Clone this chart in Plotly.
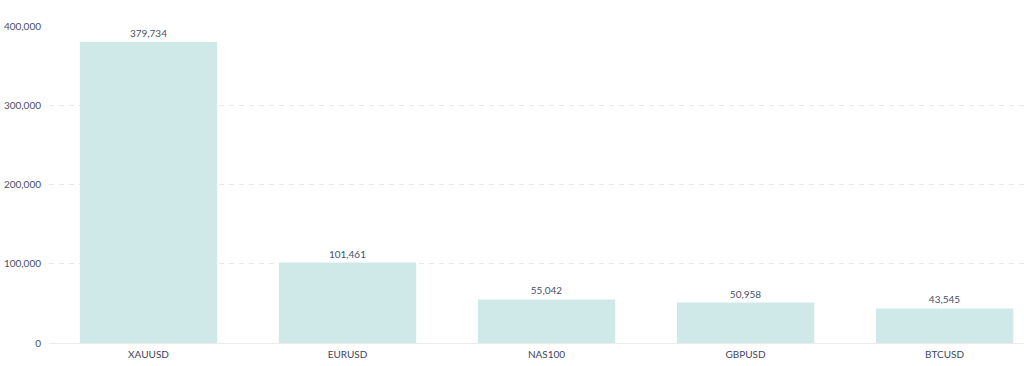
import plotly.graph_objects as go

categories = ["XAUUSD", "EURUSD", "NAS100", "GBPUSD", "BTCUSD"]
values = [379734, 101461, 55042, 50958, 43545]
y_ticks = [0, 100000, 200000, 300000, 400000]
y_tick_labels = ["0", "100,000", "200,000", "300,000", "400,000"]

fig = go.Figure(go.Bar(
    x=categories,
    y=values,
    marker=dict(color="#cfe9e9", line=dict(width=0)),
    text=[f"{v:,}" for v in values],
    textposition="outside",
    textfont=dict(family="Lato", size=10, color="#4a5068"),
    cliponaxis=False,
    width=0.69,
    hoverinfo="skip",
))

fig.update_layout(
    width=1024, height=366,
    margin=dict(l=49, r=0, t=26, b=23),
    paper_bgcolor="white", plot_bgcolor="white",
    font=dict(family="Lato", size=10, color="#4a5068"),
    showlegend=False,
    xaxis=dict(
        range=[-0.5, 4.399],
        showgrid=False,
        showline=True, linecolor="#ececec", linewidth=1,
        ticks="", tickfont=dict(family="Lato", size=10, color="#3f4560"),
        ticklabelstandoff=2,
    ),
    yaxis=dict(
        range=[0, 400000],
        tickvals=y_ticks, ticktext=y_tick_labels,
        showgrid=True, gridcolor="#e9e9e9", griddash="5px,5px", gridwidth=1,
        zeroline=False, showline=False,
        ticks="", ticklabelstandoff=7,
        tickfont=dict(family="Lato", size=10, color="#4a5068"),
    ),
)

fig.write_html(
    "out.html",
    config={"displayModeBar": False},
    post_script="document.body.style.margin='0';document.body.style.overflow='hidden';",
)
